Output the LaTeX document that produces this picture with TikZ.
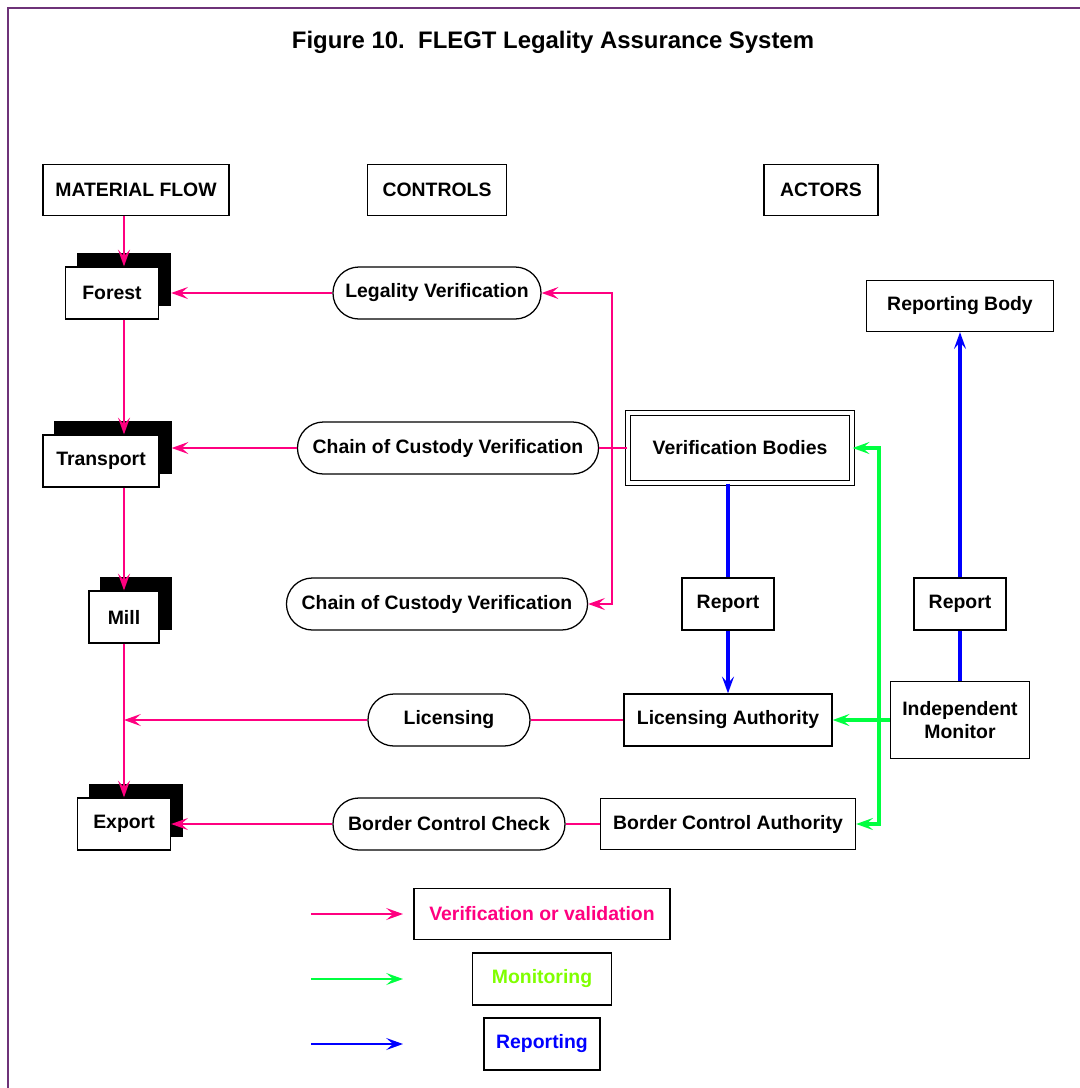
\documentclass[tikz,border=0pt]{standalone}
\usepackage{fontspec}
\setmainfont{Liberation Sans}
\usetikzlibrary{shapes.misc,shadows,arrows.meta,calc}
\definecolor{vpink}{RGB}{255,0,128}
\definecolor{mgreen}{RGB}{0,255,64}
\definecolor{mlime}{RGB}{128,255,0}
\definecolor{rblue}{RGB}{0,0,255}
\definecolor{framec}{RGB}{110,50,120}
\tikzset{
  box/.style={draw, line width=0.9pt, fill=white, inner sep=0pt, minimum height=1.3cm,
    font=\fontsize{13.8}{16}\selectfont\bfseries, align=center},
  ctrl/.style={box, rounded rectangle},
  stack/.style={box, copy shadow={shadow xshift=0.3cm, shadow yshift=0.33cm, fill=black, draw=black}},
  tip/.style={-{Stealth[length=0.42cm,width=0.3cm,inset=0.17cm]}},
  ln/.style={vpink, line width=1.1pt},
  vv/.style={ln, tip},
  mm/.style={mgreen, line width=2.2pt, tip},
  rr/.style={rblue, line width=2.3pt},
  rra/.style={rr, tip}
}
\begin{document}
\begin{tikzpicture}[x=0.025cm,y=-0.025cm]
  \useasboundingbox (0,0) rectangle (1080,1088);
  \draw[framec, line width=1.5pt] (8,1088) -- (8,8) -- (1080,8);
  \node[font=\fontsize{17}{20}\selectfont\bfseries] at (553,42) (title) {Figure 10.\ \ FLEGT Legality Assurance System};

  \node[box, minimum width=4.65cm, minimum height=1.275cm] at (136,190) (matflow) {MATERIAL FLOW};
  \node[box, minimum width=3.475cm, minimum height=1.275cm] at (437,190) (controls) {CONTROLS};
  \node[box, minimum width=2.85cm, minimum height=1.275cm] at (821,190) (actors) {ACTORS};

  \node[stack, minimum width=2.325cm] at (112,293) (forest) {Forest};
  \node[stack, minimum width=2.9cm] at (101,461) (transport) {Transport};
  \node[stack, minimum width=1.75cm] at (124,617) (mill) {Mill};
  \node[stack, minimum width=2.325cm] at (124,824) (export) {Export};

  \node[ctrl, minimum width=5.2cm] at (437,293) (legal) {Legality Verification};
  \node[ctrl, minimum width=7.525cm] at (448,448) (coc) {Chain of Custody Verification};
  \node[ctrl, minimum width=7.525cm] at (437,604) (cocmill) {Chain of Custody Verification};
  \node[ctrl, minimum width=4.05cm] at (449,720) (lic) {Licensing};
  \node[ctrl, minimum width=5.8cm] at (449,824) (border) {Border Control Check};

  \node[box, minimum width=4.675cm, minimum height=1.275cm] at (960,306) (repbody) {Reporting Body};
  \node[box, double, double distance=0.1cm, minimum width=5.6cm, minimum height=1.75cm] at (740,448) (verbody) {Verification Bodies};
  \node[box, minimum width=2.3cm] at (728,604) (rep1) {Report};
  \node[box, minimum width=2.3cm] at (960,604) (rep2) {Report};
  \node[box, minimum width=5.2cm] at (728,720) (licauth) {Licensing Authority};
  \node[box, minimum width=3.475cm, minimum height=1.925cm] at (960,720) (indmon) {Independent\\Monitor};
  \node[box, minimum width=6.375cm, minimum height=1.275cm] at (728,824) (bordauth) {Border Control Authority};

  \coordinate (spine) at (124,0);
  \coordinate (psplit) at (612,448);
  \coordinate (gsplit) at (879,720);

  \draw[vv] (matflow.south -| spine) -- (forest.north -| spine);
  \draw[vv] (forest.south -| spine) -- (transport.north -| spine);
  \draw[vv] (transport.south -| spine) -- (mill.north -| spine);
  \draw[vv] (mill.south -| spine) -- (export.north -| spine);

  \draw[vv] (legal.west) -- ($(legal.west -| forest.east)+(12,0)$);
  \draw[vv] (coc.west) -- ($(coc.west -| transport.east)+(12,0)$);
  \draw[ln] (coc.east) -- (verbody.west);
  \draw[vv] (psplit) |- (legal.east);
  \draw[vv] (psplit) |- (cocmill.east);
  \draw[ln] (licauth.west) -- (lic.east);
  \draw[vv] (lic.west) -- (lic.west -| spine);
  \draw[ln] (bordauth.west) -- (border.east);
  \draw[vv] (border.west) -- (border.west -| export.east);

  \draw[rr] (verbody.south -| rep1.north) -- (rep1.north);
  \draw[rra] (rep1.south) -- (licauth.north);
  \draw[rr] (indmon.north) -- (rep2.south);
  \draw[rra] (rep2.north) -- (repbody.south);

  \draw[mm] (indmon.west) -- (licauth.east);
  \draw[mm] (gsplit) |- (verbody.east);
  \draw[mm] (gsplit) |- (bordauth.east);

  \node[box, text=vpink, minimum width=6.4cm, minimum height=1.275cm] at (542,914) (legv) {Verification or validation};
  \node[box, text=mlime, minimum width=3.475cm] at (542,979) (legm) {Monitoring};
  \node[box, text=rblue, minimum width=2.9cm] at (542,1044) (legr) {Reporting};
  \coordinate (va) at (311,914);
  \coordinate (vb) at (403,914);
  \coordinate (ma) at (311,979);
  \coordinate (mb) at (403,979);
  \coordinate (ra) at (311,1044);
  \coordinate (rb) at (403,1044);
  \draw[vv] (va) -- (vb);
  \draw[mgreen, line width=1.1pt, tip] (ma) -- (mb);
  \draw[rblue, line width=1.1pt, tip] (ra) -- (rb);
\end{tikzpicture}
\end{document}
